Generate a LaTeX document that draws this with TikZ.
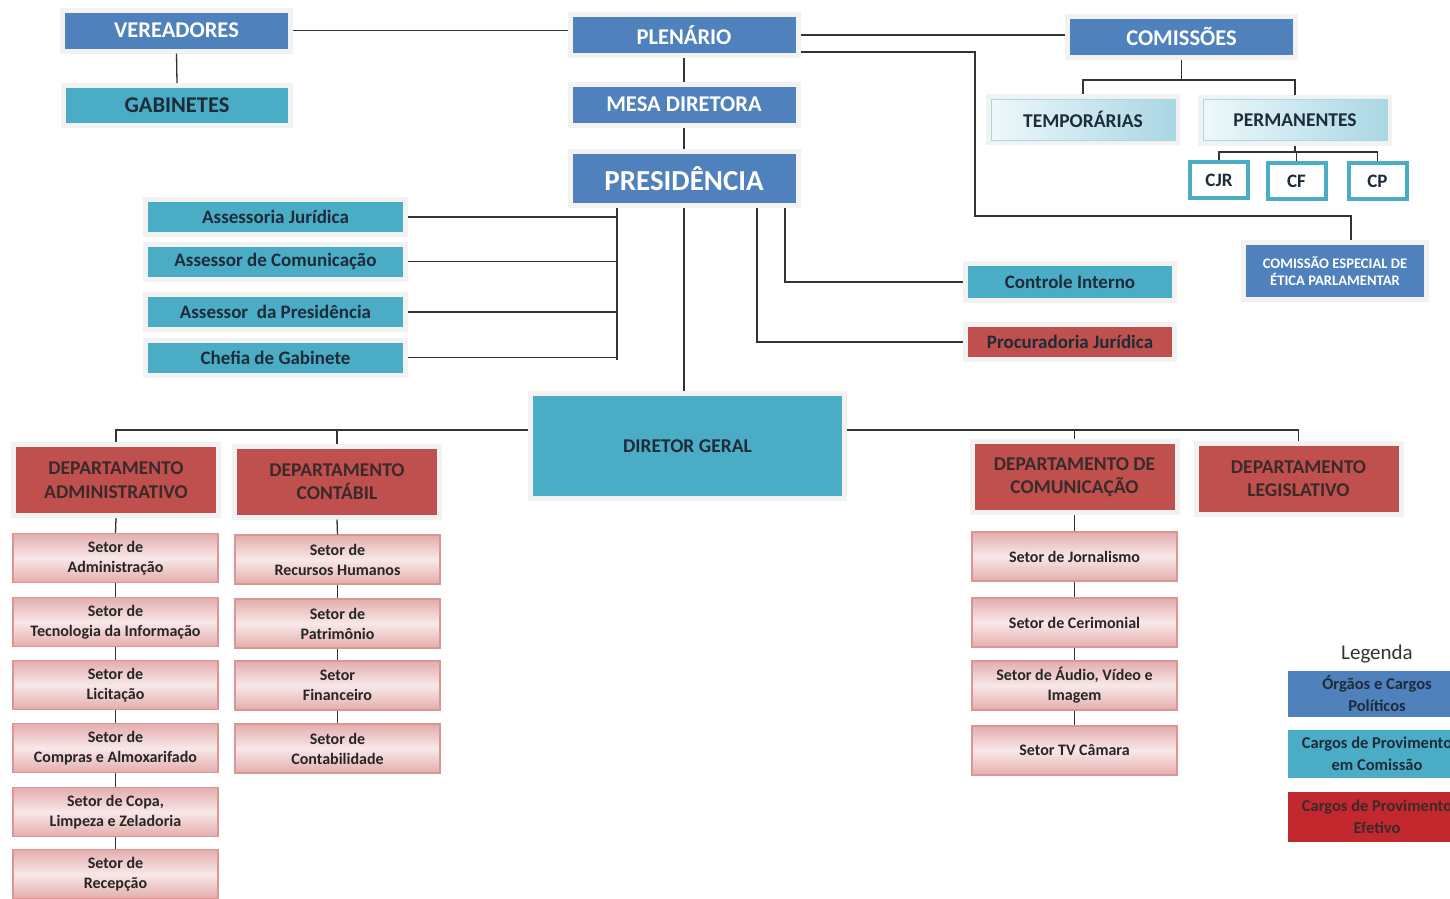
\documentclass[tikz,border=0pt]{standalone}
\usepackage{fontspec}
\setmainfont{Carlito}
\usepackage{xcolor}
\usetikzlibrary{positioning,calc}

\definecolor{polblue}{HTML}{4F81BD}
\definecolor{comteal}{HTML}{4BACC6}
\definecolor{efred}{HTML}{C0504D}
\definecolor{legred}{HTML}{C3282E}
\definecolor{framegray}{HTML}{F2F2F2}
\definecolor{inktext}{HTML}{1E2B38}
\definecolor{depttext}{HTML}{3A2A2A}
\definecolor{setbord}{HTML}{D99694}
\definecolor{setlight}{HTML}{F8E8E8}
\definecolor{setdark}{HTML}{E4ADAC}
\definecolor{cylight}{HTML}{EEF8FB}
\definecolor{cydark}{HTML}{A9D7E4}
\definecolor{linegray}{HTML}{333333}
\newcommand\fs[2]{\fontsize{#1}{#2}\selectfont}

\begin{document}
\begin{tikzpicture}[x=1pt,y=-1pt,
    line/.style={draw=linegray, line width=1.3pt},
    framed/.style={preaction={draw=framegray, line width=10pt}, outer sep=5pt},
    polbox/.style={framed, fill=polblue, text=white, inner sep=0pt,
        minimum width=223pt, minimum height=36pt, font=\fs{22.5}{27}\bfseries},
    tealbox/.style={framed, fill=comteal, text=inktext, inner sep=0pt,
        minimum width=255pt, minimum height=30pt, font=\fs{19}{23}\bfseries},
    deptbox/.style={framed, fill=efred, text=depttext, inner sep=0pt, align=center,
        minimum width=200pt, minimum height=66pt, font=\fs{19.5}{23.5}\bfseries},
    setbox/.style={draw=setbord, line width=1.5pt, top color=setdark, bottom color=setdark,
        middle color=setlight, text=black!85, inner sep=0pt, align=center,
        minimum width=205pt, minimum height=49pt, font=\fs{16}{20}\bfseries},
    tipobox/.style={framed, draw=cydark, left color=cylight, right color=cydark,
        text=inktext, inner sep=0pt, minimum width=184pt, minimum height=41pt,
        font=\fs{19.5}{23}\bfseries},
    sigla/.style={draw=comteal, line width=4pt, fill=white, text=inktext, inner sep=0pt,
        minimum width=58pt, minimum height=36pt, font=\fs{19}{23}\bfseries},
    legbox/.style={inner sep=0pt, align=center, minimum width=178pt,
        font=\fs{16.5}{22}\bfseries}
]
\useasboundingbox (0,0) rectangle (1450,898);

% orgaos politicos
\node[polbox] (ver) at (176.5,30.5) {VEREADORES};
\node[tealbox, minimum width=222pt, minimum height=35pt, font=\fs{22.5}{27}\bfseries] (gab) at (177,105.5) {GABINETES};
\node[polbox] (plen) at (684,35) {PLENÁRIO};
\node[polbox] (mesa) at (684,104.5) {MESA DIRETORA};
\node[polbox, minimum height=49pt, font=\fs{29}{34}\bfseries] (pres) at (684,178.5) {PRESIDÊNCIA};
\node[polbox] (comi) at (1181.5,36.5) {COMISSÕES};

\draw[line] (ver.east) -- (plen.west |- ver.east);
\draw[line] (ver.south) -- (gab.north);
\draw[line] (plen.south) -- (mesa.north);
\draw[line] (mesa.south) -- (pres.north);
\draw[line] (plen.east) -- (plen.east -| comi.west);

% comissoes
\node[tipobox] (temp) at (1083,119.5) {TEMPORÁRIAS};
\node[tipobox] (perm) at (1295,120) {PERMANENTES};
\node[sigla] (cjr) at (1219,180) {CJR};
\node[sigla] (cf) at (1296.5,181) {CF};
\node[sigla] (cp) at (1377.5,181) {CP};
\node[framed, fill=polblue, text=white, align=center, inner sep=0pt, minimum width=178pt,
    minimum height=52pt, font=\fs{14.6}{17.5}\bfseries] (etica) at (1335,271)
    {COMISSÃO ESPECIAL DE\\ÉTICA PARLAMENTAR};

\coordinate (cbus) at (0,80);
\coordinate (pbus) at (0,152);
\coordinate (elbow) at (975,216);
\draw[line] (comi.south) -- (comi.south |- cbus);
\draw[line] (temp.north) |- (perm.north |- cbus) -- (perm.north);
\draw[line] (perm.south) -- (perm.south |- pbus);
\draw[line] (cjr.north) |- (cp.north |- pbus) -- (cp.north);
\draw[line] (cf.north) -- (cf.north |- pbus);
\draw[line] ([yshift=-17pt]plen.east) -| (elbow) -| ([xshift=16pt]etica.north);

% assessorias da presidencia
\foreach \y/\t [count=\i] in {217/Assessoria Jurídica, 261.5/Assessor de Comunicação,
        312/Assessor\ \ da Presidência, 357.5/Chefia de Gabinete} {
    \node[tealbox] (ass\i) at (275.5,\y) {\t};
}
\coordinate (busL) at (617,360);
\draw[line] (pres.south -| busL) -- (busL);
\foreach \i in {1,...,4}
    \draw[line] (ass\i.east) -- (ass\i.east -| busL);

\node[tealbox, minimum width=204pt, minimum height=32pt] (ci) at (1070,282) {Controle Interno};
\node[tealbox, fill=efred, minimum width=204pt] (proc) at (1070,342) {Procuradoria Jurídica};
\coordinate (ciX) at (785,0);
\coordinate (procX) at (757,0);
\draw[line] (pres.south -| ciX) |- (ci.west);
\draw[line] (pres.south -| procX) |- (proc.west);

% diretoria e departamentos
\node[tealbox, minimum width=309pt, minimum height=100pt, font=\fs{19.5}{23}\bfseries] (dg) at (687.5,446) {DIRETOR GERAL};
\draw[line] (pres.south) -- (pres.south |- dg.north);

\node[deptbox] (dadm) at (116,480) {DEPARTAMENTO\\ADMINISTRATIVO};
\node[deptbox] (dcont) at (337,481.5) {DEPARTAMENTO\\CONTÁBIL};
\node[deptbox] (dcom) at (1074.5,477) {DEPARTAMENTO DE\\COMUNICAÇÃO};
\node[deptbox] (dleg) at (1298.5,478.5) {DEPARTAMENTO\\LEGISLATIVO};

\coordinate (busD) at (0,430);
\draw[line] (dg.west |- busD) -| (dadm.north);
\draw[line] (dcont.north |- busD) -- (dcont.north);
\draw[line] (dg.east |- busD) -| (dleg.north);
\draw[line] (dcom.north |- busD) -- (dcom.north);

% setores
\foreach \y/\t [count=\i] in {558/{Setor de\\Administração}, 622/{Setor de\\Tecnologia da Informação},
        685/{Setor de\\Licitação}, 748/{Setor de\\Compras e Almoxarifado},
        812/{Setor de Copa,\\Limpeza e Zeladoria}, 874/{Setor de\\Recepção}} {
    \node[setbox] (adm\i) at (115.5,\y) {\t};
}
\foreach \y/\t [count=\i] in {559.5/{Setor de\\Recursos Humanos}, 623.5/{Setor de\\Patrimônio},
        685.5/{Setor\\Financeiro}, 748.5/{Setor de\\Contabilidade}} {
    \node[setbox] (cont\i) at (337.5,\y) {\t};
}
\foreach \y/\t [count=\i] in {556.5/{Setor de Jornalismo}, 622.5/{Setor de Cerimonial},
        685.5/{Setor de Áudio, Vídeo e\\Imagem}, 750.5/{Setor TV Câmara}} {
    \node[setbox] (com\i) at (1074.5,\y) {\t};
}
\draw[line] (dadm.south) -- (adm1.north);
\draw[line] (dcont.south) -- (cont1.north);
\draw[line] (dcom.south) -- (com1.north);
\foreach \i/\j in {1/2,2/3,3/4,4/5,5/6}
    \draw[line] (adm\i.south) -- (adm\j.north);
\foreach \i/\j in {1/2,2/3,3/4} {
    \draw[line] (cont\i.south) -- (cont\j.north);
    \draw[line] (com\i.south) -- (com\j.north);
}

% legenda
\node[font=\fs{21}{25}, text=black!80] (leg) at (1377,654) {Legenda};
\node[legbox, fill=polblue, text=inktext, minimum height=46pt] (leg1) at (1377,694) {Órgãos e Cargos\\Políticos};
\node[legbox, fill=comteal, text=inktext, minimum height=48pt] (leg2) at (1377,754) {Cargos de Provimento\\em Comissão};
\node[legbox, fill=legred, text=depttext, minimum height=50pt] (leg3) at (1377,817) {Cargos de Provimento\\Efetivo};
\end{tikzpicture}
\end{document}
